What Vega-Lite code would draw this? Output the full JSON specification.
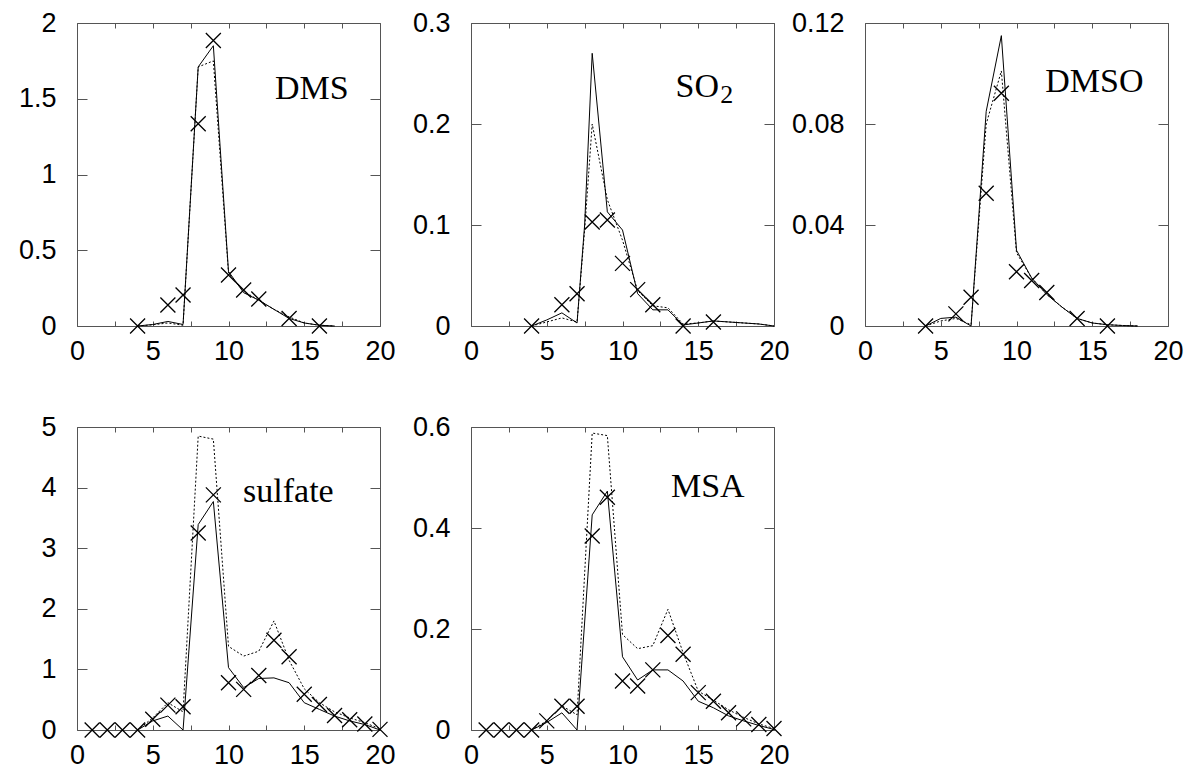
{
  "$schema": "https://vega.github.io/schema/vega-lite/v6.json",
  "background": "white",
  "padding": {"left": 17, "top": 8, "right": 5, "bottom": 5},
  "datasets": {
    "dms": [
      {"x": 4, "value": 0, "series": "model1"}, {"x": 5, "value": 0.01, "series": "model1"}, {"x": 6, "value": 0.03, "series": "model1"}, {"x": 7, "value": 0.01, "series": "model1"}, {"x": 8, "value": 1.71, "series": "model1"}, {"x": 9, "value": 1.85, "series": "model1"}, {"x": 10, "value": 0.36, "series": "model1"}, {"x": 11, "value": 0.22, "series": "model1"}, {"x": 12, "value": 0.17, "series": "model1"}, {"x": 13, "value": 0.11, "series": "model1"}, {"x": 14, "value": 0.05, "series": "model1"}, {"x": 15, "value": 0.02, "series": "model1"}, {"x": 16, "value": 0.005, "series": "model1"}, {"x": 17, "value": 0, "series": "model1"},
      {"x": 4, "value": 0, "series": "model2"}, {"x": 5, "value": 0.008, "series": "model2"}, {"x": 6, "value": 0.02, "series": "model2"}, {"x": 7, "value": 0.005, "series": "model2"}, {"x": 8, "value": 1.71, "series": "model2"}, {"x": 9, "value": 1.75, "series": "model2"}, {"x": 10, "value": 0.35, "series": "model2"}, {"x": 11, "value": 0.23, "series": "model2"}, {"x": 12, "value": 0.17, "series": "model2"}, {"x": 13, "value": 0.11, "series": "model2"}, {"x": 14, "value": 0.06, "series": "model2"}, {"x": 15, "value": 0.02, "series": "model2"}, {"x": 16, "value": 0.005, "series": "model2"}, {"x": 17, "value": 0, "series": "model2"},
      {"x": 4, "value": 0, "series": "obs"}, {"x": 6, "value": 0.139, "series": "obs"}, {"x": 7, "value": 0.205, "series": "obs"}, {"x": 8, "value": 1.335, "series": "obs"}, {"x": 9, "value": 1.885, "series": "obs"}, {"x": 10, "value": 0.337, "series": "obs"}, {"x": 11, "value": 0.238, "series": "obs"}, {"x": 12, "value": 0.178, "series": "obs"}, {"x": 14, "value": 0.05, "series": "obs"}, {"x": 16, "value": 0, "series": "obs"}
    ],
    "so2": [
      {"x": 4, "value": 0, "series": "model1"}, {"x": 5, "value": 0.006, "series": "model1"}, {"x": 6, "value": 0.013, "series": "model1"}, {"x": 7, "value": 0.003, "series": "model1"}, {"x": 7.5, "value": 0.1, "series": "model1"}, {"x": 8, "value": 0.27, "series": "model1"}, {"x": 9, "value": 0.113, "series": "model1"}, {"x": 10, "value": 0.095, "series": "model1"}, {"x": 11, "value": 0.032, "series": "model1"}, {"x": 12, "value": 0.016, "series": "model1"}, {"x": 13, "value": 0.016, "series": "model1"}, {"x": 14, "value": 0.001, "series": "model1"}, {"x": 15, "value": 0.003, "series": "model1"}, {"x": 16, "value": 0.005, "series": "model1"}, {"x": 17, "value": 0.004, "series": "model1"}, {"x": 18, "value": 0.003, "series": "model1"}, {"x": 19, "value": 0.002, "series": "model1"}, {"x": 20, "value": 0, "series": "model1"},
      {"x": 4, "value": 0, "series": "model2"}, {"x": 5, "value": 0.004, "series": "model2"}, {"x": 6, "value": 0.008, "series": "model2"}, {"x": 7, "value": 0.004, "series": "model2"}, {"x": 7.5, "value": 0.095, "series": "model2"}, {"x": 8, "value": 0.2, "series": "model2"}, {"x": 9, "value": 0.125, "series": "model2"}, {"x": 10, "value": 0.085, "series": "model2"}, {"x": 11, "value": 0.035, "series": "model2"}, {"x": 12, "value": 0.02, "series": "model2"}, {"x": 13, "value": 0.018, "series": "model2"}, {"x": 14, "value": 0.002, "series": "model2"}, {"x": 15, "value": 0.003, "series": "model2"}, {"x": 16, "value": 0.005, "series": "model2"}, {"x": 17, "value": 0.004, "series": "model2"}, {"x": 18, "value": 0.003, "series": "model2"}, {"x": 19, "value": 0.002, "series": "model2"}, {"x": 20, "value": 0, "series": "model2"},
      {"x": 4, "value": 0, "series": "obs"}, {"x": 6, "value": 0.021, "series": "obs"}, {"x": 7, "value": 0.032, "series": "obs"}, {"x": 8, "value": 0.103, "series": "obs"}, {"x": 9, "value": 0.105, "series": "obs"}, {"x": 10, "value": 0.062, "series": "obs"}, {"x": 11, "value": 0.036, "series": "obs"}, {"x": 12, "value": 0.021, "series": "obs"}, {"x": 14, "value": 0, "series": "obs"}, {"x": 16, "value": 0.004, "series": "obs"}
    ],
    "dmso": [
      {"x": 4, "value": 0, "series": "model1"}, {"x": 5, "value": 0.003, "series": "model1"}, {"x": 6, "value": 0.0035, "series": "model1"}, {"x": 7, "value": 0, "series": "model1"}, {"x": 8, "value": 0.085, "series": "model1"}, {"x": 9, "value": 0.115, "series": "model1"}, {"x": 10, "value": 0.03, "series": "model1"}, {"x": 11, "value": 0.019, "series": "model1"}, {"x": 12, "value": 0.0125, "series": "model1"}, {"x": 13, "value": 0.0075, "series": "model1"}, {"x": 14, "value": 0.003, "series": "model1"}, {"x": 15, "value": 0.0012, "series": "model1"}, {"x": 16, "value": 0.0005, "series": "model1"}, {"x": 17, "value": 0.0002, "series": "model1"}, {"x": 18, "value": 0, "series": "model1"},
      {"x": 4, "value": 0, "series": "model2"}, {"x": 5, "value": 0.002, "series": "model2"}, {"x": 6, "value": 0.003, "series": "model2"}, {"x": 7, "value": 0.0005, "series": "model2"}, {"x": 8, "value": 0.08, "series": "model2"}, {"x": 9, "value": 0.101, "series": "model2"}, {"x": 10, "value": 0.029, "series": "model2"}, {"x": 11, "value": 0.019, "series": "model2"}, {"x": 12, "value": 0.0125, "series": "model2"}, {"x": 13, "value": 0.0075, "series": "model2"}, {"x": 14, "value": 0.003, "series": "model2"}, {"x": 15, "value": 0.0012, "series": "model2"}, {"x": 16, "value": 0.0005, "series": "model2"}, {"x": 17, "value": 0.0002, "series": "model2"}, {"x": 18, "value": 0, "series": "model2"},
      {"x": 4, "value": 0, "series": "obs"}, {"x": 6, "value": 0.0048, "series": "obs"}, {"x": 7, "value": 0.0114, "series": "obs"}, {"x": 8, "value": 0.0526, "series": "obs"}, {"x": 9, "value": 0.0922, "series": "obs"}, {"x": 10, "value": 0.0215, "series": "obs"}, {"x": 11, "value": 0.018, "series": "obs"}, {"x": 12, "value": 0.0133, "series": "obs"}, {"x": 14, "value": 0.003, "series": "obs"}, {"x": 16, "value": 0, "series": "obs"}
    ],
    "sulfate": [
      {"x": 4, "value": 0, "series": "model1"}, {"x": 5, "value": 0.15, "series": "model1"}, {"x": 6, "value": 0.23, "series": "model1"}, {"x": 7, "value": 0, "series": "model1"}, {"x": 8, "value": 3.39, "series": "model1"}, {"x": 9, "value": 3.77, "series": "model1"}, {"x": 10, "value": 1.03, "series": "model1"}, {"x": 11, "value": 0.7, "series": "model1"}, {"x": 12, "value": 0.85, "series": "model1"}, {"x": 13, "value": 0.86, "series": "model1"}, {"x": 14, "value": 0.78, "series": "model1"}, {"x": 15, "value": 0.45, "series": "model1"}, {"x": 16, "value": 0.34, "series": "model1"}, {"x": 17, "value": 0.23, "series": "model1"}, {"x": 18, "value": 0.15, "series": "model1"}, {"x": 19, "value": 0.09, "series": "model1"}, {"x": 20, "value": 0, "series": "model1"},
      {"x": 4, "value": 0, "series": "model2"}, {"x": 5, "value": 0.2, "series": "model2"}, {"x": 6, "value": 0.45, "series": "model2"}, {"x": 7, "value": 0.3, "series": "model2"}, {"x": 8, "value": 4.85, "series": "model2"}, {"x": 9, "value": 4.8, "series": "model2"}, {"x": 10, "value": 1.38, "series": "model2"}, {"x": 11, "value": 1.22, "series": "model2"}, {"x": 12, "value": 1.3, "series": "model2"}, {"x": 13, "value": 1.8, "series": "model2"}, {"x": 14, "value": 1.15, "series": "model2"}, {"x": 15, "value": 0.68, "series": "model2"}, {"x": 16, "value": 0.45, "series": "model2"}, {"x": 17, "value": 0.3, "series": "model2"}, {"x": 18, "value": 0.2, "series": "model2"}, {"x": 19, "value": 0.12, "series": "model2"}, {"x": 20, "value": 0.02, "series": "model2"},
      {"x": 1, "value": 0, "series": "obs"}, {"x": 2, "value": 0, "series": "obs"}, {"x": 3, "value": 0, "series": "obs"}, {"x": 4, "value": 0, "series": "obs"}, {"x": 5, "value": 0.176, "series": "obs"}, {"x": 6, "value": 0.41, "series": "obs"}, {"x": 7, "value": 0.385, "series": "obs"}, {"x": 8, "value": 3.25, "series": "obs"}, {"x": 9, "value": 3.88, "series": "obs"}, {"x": 10, "value": 0.78, "series": "obs"}, {"x": 11, "value": 0.67, "series": "obs"}, {"x": 12, "value": 0.9, "series": "obs"}, {"x": 13, "value": 1.48, "series": "obs"}, {"x": 14, "value": 1.21, "series": "obs"}, {"x": 15, "value": 0.59, "series": "obs"}, {"x": 16, "value": 0.42, "series": "obs"}, {"x": 17, "value": 0.24, "series": "obs"}, {"x": 18, "value": 0.17, "series": "obs"}, {"x": 19, "value": 0.1, "series": "obs"}, {"x": 20, "value": 0.01, "series": "obs"}
    ],
    "msa": [
      {"x": 4, "value": 0, "series": "model1"}, {"x": 5, "value": 0.015, "series": "model1"}, {"x": 6, "value": 0.034, "series": "model1"}, {"x": 7, "value": 0, "series": "model1"}, {"x": 8, "value": 0.426, "series": "model1"}, {"x": 9, "value": 0.473, "series": "model1"}, {"x": 10, "value": 0.145, "series": "model1"}, {"x": 11, "value": 0.099, "series": "model1"}, {"x": 12, "value": 0.119, "series": "model1"}, {"x": 13, "value": 0.119, "series": "model1"}, {"x": 14, "value": 0.097, "series": "model1"}, {"x": 15, "value": 0.057, "series": "model1"}, {"x": 16, "value": 0.044, "series": "model1"}, {"x": 17, "value": 0.028, "series": "model1"}, {"x": 18, "value": 0.018, "series": "model1"}, {"x": 19, "value": 0.009, "series": "model1"}, {"x": 20, "value": 0.001, "series": "model1"},
      {"x": 4, "value": 0, "series": "model2"}, {"x": 5, "value": 0.018, "series": "model2"}, {"x": 6, "value": 0.048, "series": "model2"}, {"x": 7, "value": 0.03, "series": "model2"}, {"x": 8, "value": 0.588, "series": "model2"}, {"x": 9, "value": 0.583, "series": "model2"}, {"x": 10, "value": 0.189, "series": "model2"}, {"x": 11, "value": 0.161, "series": "model2"}, {"x": 12, "value": 0.167, "series": "model2"}, {"x": 13, "value": 0.239, "series": "model2"}, {"x": 14, "value": 0.153, "series": "model2"}, {"x": 15, "value": 0.077, "series": "model2"}, {"x": 16, "value": 0.059, "series": "model2"}, {"x": 17, "value": 0.04, "series": "model2"}, {"x": 18, "value": 0.025, "series": "model2"}, {"x": 19, "value": 0.012, "series": "model2"}, {"x": 20, "value": 0.003, "series": "model2"},
      {"x": 1, "value": 0, "series": "obs"}, {"x": 2, "value": 0, "series": "obs"}, {"x": 3, "value": 0, "series": "obs"}, {"x": 4, "value": 0, "series": "obs"}, {"x": 5, "value": 0.018, "series": "obs"}, {"x": 6, "value": 0.047, "series": "obs"}, {"x": 7, "value": 0.047, "series": "obs"}, {"x": 8, "value": 0.384, "series": "obs"}, {"x": 9, "value": 0.461, "series": "obs"}, {"x": 10, "value": 0.097, "series": "obs"}, {"x": 11, "value": 0.087, "series": "obs"}, {"x": 12, "value": 0.119, "series": "obs"}, {"x": 13, "value": 0.187, "series": "obs"}, {"x": 14, "value": 0.15, "series": "obs"}, {"x": 15, "value": 0.074, "series": "obs"}, {"x": 16, "value": 0.057, "series": "obs"}, {"x": 17, "value": 0.034, "series": "obs"}, {"x": 18, "value": 0.022, "series": "obs"}, {"x": 19, "value": 0.011, "series": "obs"}, {"x": 20, "value": 0.003, "series": "obs"}
    ]
  },
  "columns": 3,
  "bounds": "flush",
  "spacing": {"row": 101, "column": 91},
  "concat": [
    {
      "width": 303, "height": 303,
      "data": {"name": "dms"},
      "resolve": {"axis": {"x": "independent", "y": "independent"}},
      "layer": [
        {"transform": [{"filter": "datum.series === 'model1'"}], "mark": {"type": "line", "stroke": "black", "strokeWidth": 1, "clip": false},
         "encoding": {"x": {"field": "x", "type": "quantitative", "title": null, "scale": {"domain": [0, 20], "nice": false}, "axis": {"orient": "bottom", "values": [0, 2.5, 5, 7.5, 10, 12.5, 15, 17.5, 20], "labelExpr": "datum.value % 5 === 0 ? '' + datum.value : ''", "tickSize": -5, "labelPadding": 17}},
                      "y": {"field": "value", "type": "quantitative", "title": null, "scale": {"domain": [0, 2], "nice": false}, "axis": {"orient": "left", "values": [0, 0.5, 1, 1.5, 2], "labelExpr": "'' + datum.value", "tickSize": -10, "labelPadding": 31}}}},
        {"transform": [{"filter": "datum.series === 'model2'"}], "mark": {"type": "line", "stroke": "black", "strokeWidth": 1, "strokeDash": [2, 2], "clip": false},
         "encoding": {"x": {"field": "x", "type": "quantitative", "title": null, "axis": {"orient": "top", "values": [0, 2.5, 5, 7.5, 10, 12.5, 15, 17.5, 20], "labels": false, "tickSize": -5}},
                      "y": {"field": "value", "type": "quantitative", "title": null, "axis": {"orient": "right", "values": [0, 0.5, 1, 1.5, 2], "labels": false, "tickSize": -10}}}},
        {"transform": [{"filter": "datum.series === 'obs'"}], "mark": {"type": "point", "shape": "M-1,-1L1,1M-1,1L1,-1", "size": 225, "filled": false, "stroke": "black", "strokeWidth": 1.3, "opacity": 1, "clip": false},
         "encoding": {"x": {"field": "x", "type": "quantitative", "axis": null}, "y": {"field": "value", "type": "quantitative", "axis": null}}},
        {"data": {"values": [{}]}, "mark": {"type": "text", "text": "DMS", "font": "Liberation Serif", "fontSize": 34, "align": "left", "baseline": "alphabetic", "color": "black"},
         "encoding": {"x": {"datum": 13.07, "type": "quantitative", "axis": null}, "y": {"datum": 1.5, "type": "quantitative", "axis": null}}}
      ]
    },
    {
      "width": 303, "height": 303,
      "data": {"name": "so2"},
      "resolve": {"axis": {"x": "independent", "y": "independent"}},
      "layer": [
        {"transform": [{"filter": "datum.series === 'model1'"}], "mark": {"type": "line", "stroke": "black", "strokeWidth": 1, "clip": false},
         "encoding": {"x": {"field": "x", "type": "quantitative", "title": null, "scale": {"domain": [0, 20], "nice": false}, "axis": {"orient": "bottom", "values": [0, 2.5, 5, 7.5, 10, 12.5, 15, 17.5, 20], "labelExpr": "datum.value % 5 === 0 ? '' + datum.value : ''", "tickSize": -5, "labelPadding": 17}},
                      "y": {"field": "value", "type": "quantitative", "title": null, "scale": {"domain": [0, 0.3], "nice": false}, "axis": {"orient": "left", "values": [0, 0.1, 0.2, 0.3], "labelExpr": "'' + datum.value", "tickSize": -10, "labelPadding": 31}}}},
        {"transform": [{"filter": "datum.series === 'model2'"}], "mark": {"type": "line", "stroke": "black", "strokeWidth": 1, "strokeDash": [2, 2], "clip": false},
         "encoding": {"x": {"field": "x", "type": "quantitative", "title": null, "axis": {"orient": "top", "values": [0, 2.5, 5, 7.5, 10, 12.5, 15, 17.5, 20], "labels": false, "tickSize": -5}},
                      "y": {"field": "value", "type": "quantitative", "title": null, "axis": {"orient": "right", "values": [0, 0.1, 0.2, 0.3], "labels": false, "tickSize": -10}}}},
        {"transform": [{"filter": "datum.series === 'obs'"}], "mark": {"type": "point", "shape": "M-1,-1L1,1M-1,1L1,-1", "size": 225, "filled": false, "stroke": "black", "strokeWidth": 1.3, "opacity": 1, "clip": false},
         "encoding": {"x": {"field": "x", "type": "quantitative", "axis": null}, "y": {"field": "value", "type": "quantitative", "axis": null}}},
        {"data": {"values": [{}]}, "mark": {"type": "text", "text": "SO", "font": "Liberation Serif", "fontSize": 34, "align": "left", "baseline": "alphabetic", "color": "black"},
         "encoding": {"x": {"datum": 13.5, "type": "quantitative", "axis": null}, "y": {"datum": 0.2267, "type": "quantitative", "axis": null}}},
        {"data": {"values": [{}]}, "mark": {"type": "text", "text": "2", "font": "Liberation Serif", "fontSize": 26, "align": "left", "baseline": "alphabetic", "color": "black"},
         "encoding": {"x": {"datum": 16.45, "type": "quantitative", "axis": null}, "y": {"datum": 0.2208, "type": "quantitative", "axis": null}}}
      ]
    },
    {
      "width": 303, "height": 303,
      "data": {"name": "dmso"},
      "resolve": {"axis": {"x": "independent", "y": "independent"}},
      "layer": [
        {"transform": [{"filter": "datum.series === 'model1'"}], "mark": {"type": "line", "stroke": "black", "strokeWidth": 1, "clip": false},
         "encoding": {"x": {"field": "x", "type": "quantitative", "title": null, "scale": {"domain": [0, 20], "nice": false}, "axis": {"orient": "bottom", "values": [0, 2.5, 5, 7.5, 10, 12.5, 15, 17.5, 20], "labelExpr": "datum.value % 5 === 0 ? '' + datum.value : ''", "tickSize": -5, "labelPadding": 17}},
                      "y": {"field": "value", "type": "quantitative", "title": null, "scale": {"domain": [0, 0.12], "nice": false}, "axis": {"orient": "left", "values": [0, 0.04, 0.08, 0.12], "labelExpr": "'' + datum.value", "tickSize": -10, "labelPadding": 31}}}},
        {"transform": [{"filter": "datum.series === 'model2'"}], "mark": {"type": "line", "stroke": "black", "strokeWidth": 1, "strokeDash": [2, 2], "clip": false},
         "encoding": {"x": {"field": "x", "type": "quantitative", "title": null, "axis": {"orient": "top", "values": [0, 2.5, 5, 7.5, 10, 12.5, 15, 17.5, 20], "labels": false, "tickSize": -5}},
                      "y": {"field": "value", "type": "quantitative", "title": null, "axis": {"orient": "right", "values": [0, 0.04, 0.08, 0.12], "labels": false, "tickSize": -10}}}},
        {"transform": [{"filter": "datum.series === 'obs'"}], "mark": {"type": "point", "shape": "M-1,-1L1,1M-1,1L1,-1", "size": 225, "filled": false, "stroke": "black", "strokeWidth": 1.3, "opacity": 1, "clip": false},
         "encoding": {"x": {"field": "x", "type": "quantitative", "axis": null}, "y": {"field": "value", "type": "quantitative", "axis": null}}},
        {"data": {"values": [{}]}, "mark": {"type": "text", "text": "DMSO", "font": "Liberation Serif", "fontSize": 34, "align": "left", "baseline": "alphabetic", "color": "black"},
         "encoding": {"x": {"datum": 11.9, "type": "quantitative", "axis": null}, "y": {"datum": 0.0927, "type": "quantitative", "axis": null}}}
      ]
    },
    {
      "width": 303, "height": 303,
      "data": {"name": "sulfate"},
      "resolve": {"axis": {"x": "independent", "y": "independent"}},
      "layer": [
        {"transform": [{"filter": "datum.series === 'model1'"}], "mark": {"type": "line", "stroke": "black", "strokeWidth": 1, "clip": false},
         "encoding": {"x": {"field": "x", "type": "quantitative", "title": null, "scale": {"domain": [0, 20], "nice": false}, "axis": {"orient": "bottom", "values": [0, 2.5, 5, 7.5, 10, 12.5, 15, 17.5, 20], "labelExpr": "datum.value % 5 === 0 ? '' + datum.value : ''", "tickSize": -5, "labelPadding": 17}},
                      "y": {"field": "value", "type": "quantitative", "title": null, "scale": {"domain": [0, 5], "nice": false}, "axis": {"orient": "left", "values": [0, 1, 2, 3, 4, 5], "labelExpr": "'' + datum.value", "tickSize": -10, "labelPadding": 31}}}},
        {"transform": [{"filter": "datum.series === 'model2'"}], "mark": {"type": "line", "stroke": "black", "strokeWidth": 1, "strokeDash": [2, 2], "clip": false},
         "encoding": {"x": {"field": "x", "type": "quantitative", "title": null, "axis": {"orient": "top", "values": [0, 2.5, 5, 7.5, 10, 12.5, 15, 17.5, 20], "labels": false, "tickSize": -5}},
                      "y": {"field": "value", "type": "quantitative", "title": null, "axis": {"orient": "right", "values": [0, 1, 2, 3, 4, 5], "labels": false, "tickSize": -10}}}},
        {"transform": [{"filter": "datum.series === 'obs'"}], "mark": {"type": "point", "shape": "M-1,-1L1,1M-1,1L1,-1", "size": 225, "filled": false, "stroke": "black", "strokeWidth": 1.3, "opacity": 1, "clip": false},
         "encoding": {"x": {"field": "x", "type": "quantitative", "axis": null}, "y": {"field": "value", "type": "quantitative", "axis": null}}},
        {"data": {"values": [{}]}, "mark": {"type": "text", "text": "sulfate", "font": "Liberation Serif", "fontSize": 34, "align": "left", "baseline": "alphabetic", "color": "black"},
         "encoding": {"x": {"datum": 10.96, "type": "quantitative", "axis": null}, "y": {"datum": 3.77, "type": "quantitative", "axis": null}}}
      ]
    },
    {
      "width": 303, "height": 303,
      "data": {"name": "msa"},
      "resolve": {"axis": {"x": "independent", "y": "independent"}},
      "layer": [
        {"transform": [{"filter": "datum.series === 'model1'"}], "mark": {"type": "line", "stroke": "black", "strokeWidth": 1, "clip": false},
         "encoding": {"x": {"field": "x", "type": "quantitative", "title": null, "scale": {"domain": [0, 20], "nice": false}, "axis": {"orient": "bottom", "values": [0, 2.5, 5, 7.5, 10, 12.5, 15, 17.5, 20], "labelExpr": "datum.value % 5 === 0 ? '' + datum.value : ''", "tickSize": -5, "labelPadding": 17}},
                      "y": {"field": "value", "type": "quantitative", "title": null, "scale": {"domain": [0, 0.6], "nice": false}, "axis": {"orient": "left", "values": [0, 0.2, 0.4, 0.6], "labelExpr": "'' + datum.value", "tickSize": -10, "labelPadding": 31}}}},
        {"transform": [{"filter": "datum.series === 'model2'"}], "mark": {"type": "line", "stroke": "black", "strokeWidth": 1, "strokeDash": [2, 2], "clip": false},
         "encoding": {"x": {"field": "x", "type": "quantitative", "title": null, "axis": {"orient": "top", "values": [0, 2.5, 5, 7.5, 10, 12.5, 15, 17.5, 20], "labels": false, "tickSize": -5}},
                      "y": {"field": "value", "type": "quantitative", "title": null, "axis": {"orient": "right", "values": [0, 0.2, 0.4, 0.6], "labels": false, "tickSize": -10}}}},
        {"transform": [{"filter": "datum.series === 'obs'"}], "mark": {"type": "point", "shape": "M-1,-1L1,1M-1,1L1,-1", "size": 225, "filled": false, "stroke": "black", "strokeWidth": 1.3, "opacity": 1, "clip": false},
         "encoding": {"x": {"field": "x", "type": "quantitative", "axis": null}, "y": {"field": "value", "type": "quantitative", "axis": null}}},
        {"data": {"values": [{}]}, "mark": {"type": "text", "text": "MSA", "font": "Liberation Serif", "fontSize": 34, "align": "left", "baseline": "alphabetic", "color": "black"},
         "encoding": {"x": {"datum": 13.2, "type": "quantitative", "axis": null}, "y": {"datum": 0.461, "type": "quantitative", "axis": null}}}
      ]
    }
  ],
  "config": {
    "view": {"stroke": "#555", "strokeWidth": 1},
    "axis": {"domain": false, "grid": false, "labelFont": "Liberation Sans", "labelFontSize": 27, "labelColor": "black", "tickColor": "#555", "tickWidth": 1, "labelFlush": false, "labelOverlap": false, "labelBound": false}
  }
}
